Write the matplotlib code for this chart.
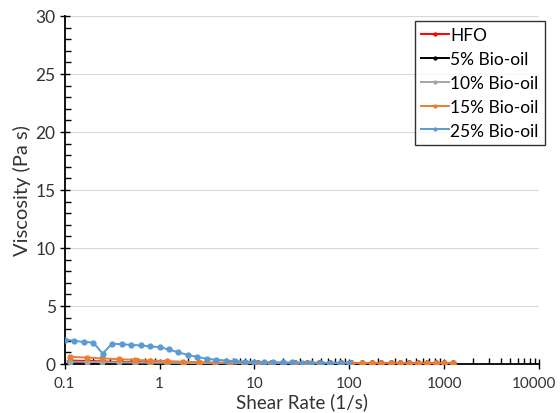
import matplotlib
matplotlib.use("Agg")
import matplotlib.pyplot as plt
import matplotlib.transforms as mtransforms
from matplotlib.ticker import LogLocator, MultipleLocator, FixedLocator, FixedFormatter

plt.rcParams["font.family"] = ["Lato", "DejaVu Sans"]

# shear rate grids (1/s)
rate_a = [0.1, 0.126, 0.158, 0.2, 0.251, 0.316, 0.398, 0.501, 0.631, 0.794,
          1.0, 1.26, 1.58, 2.0, 2.51, 3.16, 3.98, 5.01, 6.31, 7.94,
          10, 12.6, 15.8, 20, 25.1, 31.6, 39.8, 50.1, 63.1, 79.4, 100]
rate_b = [0.115, 0.17, 0.25, 0.37, 0.55, 0.8, 1.2, 1.75, 2.6, 3.8, 5.5, 7.8,
          11, 15, 20, 27, 36, 48, 63, 82, 105, 135, 172, 218, 275, 345, 430,
          535, 660, 815, 1000, 1250]

# viscosity (Pa s)
hfo = [0.3, 0.26, 0.22, 0.18, 0.15, 0.13, 0.12, 0.1, 0.09, 0.08, 0.08, 0.07,
       0.07, 0.07, 0.06, 0.06, 0.06, 0.06, 0.06, 0.06, 0.06, 0.06, 0.06, 0.06,
       0.06, 0.06, 0.06, 0.06, 0.06, 0.06, 0.06, 0.06]
bio5 = [0.15, 0.14, 0.12, 0.11, 0.1, 0.09, 0.08, 0.07, 0.07, 0.06, 0.06, 0.05,
        0.05, 0.05, 0.05, 0.05, 0.05, 0.05, 0.05, 0.05, 0.05, 0.05, 0.05, 0.05,
        0.05, 0.05, 0.05, 0.05, 0.05, 0.05, 0.05, 0.05]
bio10 = [0.2, 0.18, 0.16, 0.14, 0.12, 0.11, 0.1, 0.09, 0.08, 0.07, 0.07, 0.06,
         0.06, 0.06, 0.06, 0.06, 0.05, 0.05, 0.05, 0.05, 0.05, 0.05, 0.05, 0.05,
         0.05, 0.05, 0.05, 0.05, 0.05, 0.05, 0.05, 0.05]
bio15 = [0.62, 0.55, 0.48, 0.42, 0.35, 0.3, 0.25, 0.2, 0.16, 0.13, 0.11, 0.1,
         0.09, 0.08, 0.08, 0.07, 0.07, 0.07, 0.06, 0.06, 0.06, 0.06, 0.06, 0.06,
         0.06, 0.06, 0.06, 0.05, 0.05, 0.05, 0.05, 0.05]
bio25 = [2.1, 2.0, 1.9, 1.85, 0.9, 1.75, 1.7, 1.65, 1.6, 1.52, 1.45, 1.25,
         1.0, 0.78, 0.6, 0.45, 0.36, 0.3, 0.25, 0.2, 0.18, 0.16, 0.15, 0.14,
         0.13, 0.12, 0.12, 0.11, 0.11, 0.1, 0.1]

series = [
    ("HFO", rate_b, hfo, "#FF0000"),
    ("5% Bio-oil", rate_b, bio5, "#000000"),
    ("10% Bio-oil", rate_b, bio10, "#A5A5A5"),
    ("15% Bio-oil", rate_b, bio15, "#ED7D31"),
    ("25% Bio-oil", rate_a, bio25, "#5B9BD5"),
]

fig = plt.figure(figsize=(5.6, 4.14), dpi=100)
ax = fig.add_axes([0.1155, 0.1184, 0.847, 0.8406])

for name, x, y, c in series:
    ax.plot(x, y, color=c, lw=1.4, marker="o", ms=3.5, label=name, zorder=3)

ax.set_xscale("log")
ax.set_xlim(0.1, 10000)
ax.set_ylim(0, 30)

xt = [0.1, 1, 10, 100, 1000, 10000]
ax.xaxis.set_major_locator(FixedLocator(xt))
ax.xaxis.set_major_formatter(FixedFormatter(["0.1", "1", "10", "100", "1000", "10000"]))
ax.xaxis.set_minor_locator(LogLocator(base=10, subs=range(2, 10)))
ax.yaxis.set_major_locator(MultipleLocator(5))
ax.yaxis.set_minor_locator(MultipleLocator(1))

ax.tick_params(axis="both", which="major", direction="inout", length=7, width=1,
               colors="#000000", labelcolor="#333333")
ax.tick_params(axis="x", which="major", pad=5, labelsize=11)
ax.tick_params(axis="y", which="major", pad=3, labelsize=12.5)
ax.tick_params(axis="both", which="minor", direction="in", length=4, width=1)

# keep the last x label inside the figure
fig.canvas.draw()
last = ax.get_xticklabels()[-1]
last.set_transform(last.get_transform()
                   + mtransforms.ScaledTranslation(-5 / 100, 0, fig.dpi_scale_trans))

ax.grid(axis="y", which="major", color="#D9D9D9", lw=0.8, zorder=0)
ax.set_axisbelow(True)

for s in ["top", "right"]:
    ax.spines[s].set_visible(False)
for s in ["left", "bottom"]:
    ax.spines[s].set_linewidth(1.3)
    ax.spines[s].set_color("#000000")

ax.set_xlabel("Shear Rate (1/s)", fontsize=13.5, color="#333333", labelpad=2)
ax.set_ylabel("Viscosity (Pa s)", fontsize=14.5, color="#333333", labelpad=3)

leg = ax.legend(loc="upper right", bbox_to_anchor=(1.012, 0.985), fontsize=12.5,
                frameon=True, fancybox=False, borderpad=0.35, labelspacing=0.45,
                handlelength=1.6, handletextpad=0.1, borderaxespad=0.0,
                markerscale=0.6)
leg.get_frame().set_edgecolor("#000000")
leg.get_frame().set_linewidth(1.0)

fig.savefig("out.png", dpi=100)
